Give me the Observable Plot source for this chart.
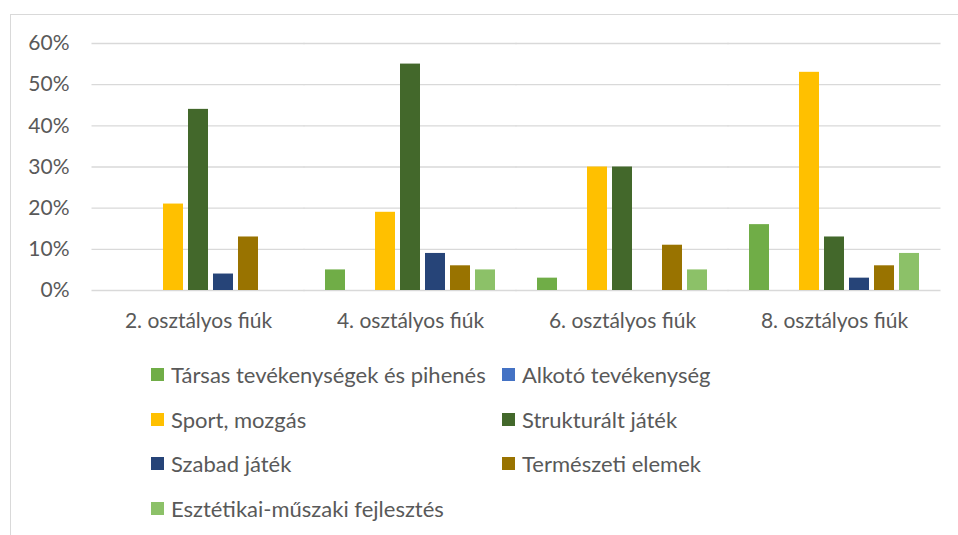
<!DOCTYPE html>
<html><head><meta charset="utf-8">
<script src="https://cdn.jsdelivr.net/npm/d3@7"></script>
<script src="https://cdn.jsdelivr.net/npm/@observablehq/plot@0.6"></script>
<style>
body{margin:0;background:#fff;font-family:Lato,"Open Sans",sans-serif;}
#wrap{position:relative;width:958px;height:535px;overflow:hidden;}
#frame{position:absolute;left:10px;top:14px;width:1000px;height:600px;border:1px solid #d9d9d9;box-sizing:border-box;}
#chart{position:absolute;left:0;top:0;}
#legend{position:absolute;left:0;top:0;width:958px;height:535px;}
.li{position:absolute;display:flex;align-items:center;font-size:22px;color:#595959;white-space:nowrap;height:26px;}
.sw{width:13px;height:13px;margin-right:7px;flex:none;}
</style></head>
<body><div id="wrap"><div id="frame"></div><div id="chart"></div><div id="legend"></div></div>
<script>
const groups = ["2. osztályos fiúk","4. osztályos fiúk","6. osztályos fiúk","8. osztályos fiúk"];
const series = ["Társas tevékenységek és pihenés","Alkotó tevékenység","Sport, mozgás","Strukturált játék","Szabad játék","Természeti elemek","Esztétikai-műszaki fejlesztés"];
const colors = ["#70AD47","#4472C4","#FFC000","#43682B","#264478","#997300","#8CC168"];
// values (%) per series, in group order
const tarsas     = [0, 5, 3, 16];
const alkoto     = [0, 0, 0, 0];
const sport      = [21, 19, 30, 53];
const strukt     = [44, 55, 30, 13];
const szabad     = [4, 9, 0, 3];
const termeszeti = [13, 6, 11, 6];
const esztetikai = [0, 5, 5, 9];
const yTicks = [0, 0.1, 0.2, 0.3, 0.4, 0.5, 0.6];

const valuesBySeries = [tarsas, alkoto, sport, strukt, szabad, termeszeti, esztetikai];
const data = [];
groups.forEach((g, gi) => series.forEach((s, si) => data.push({group: g, series: s, value: valuesBySeries[si][gi] / 100})));

const plot = Plot.plot({
  width: 958,
  height: 340,
  marginLeft: 91,
  marginRight: 17,
  marginTop: 43,
  marginBottom: 50,
  style: {fontFamily: "Lato, 'Open Sans', sans-serif", color: "#595959", background: "transparent", overflow: "visible"},
  fx: {domain: groups, paddingInner: 0.153, paddingOuter: 0.0765, axis: "bottom", label: null, tickSize: 0, tickPadding: 23},
  x: {domain: series, padding: 0.2, axis: null},
  y: {domain: [0, 0.6], ticks: yTicks, tickFormat: d3.format(".0%"), tickSize: 0, tickPadding: 39, label: null},
  color: {domain: series, range: colors},
  marks: [
    Plot.ruleY(yTicks, {stroke: "#d9d9d9", strokeWidth: 1.3, insetLeft: -16.5, insetRight: -16.5}),
    Plot.barY(data, {fx: "group", x: "series", y: "value", fill: "series"})
  ]
});
plot.querySelectorAll("text").forEach(t => { t.style.fontSize = "21px"; t.setAttribute("fill", "#595959"); });
document.getElementById("chart").appendChild(plot);

const leg = document.getElementById("legend");
const colX = [151, 502];
const rowY = [375, 420, 464, 509];
series.forEach((s, i) => {
  const d = document.createElement("div");
  d.className = "li";
  d.style.left = colX[i % 2] + "px";
  d.style.top = (rowY[Math.floor(i / 2)] - 14) + "px";
  d.innerHTML = `<span class="sw" style="background:${colors[i]}"></span><span>${s}</span>`;
  leg.appendChild(d);
});
</script></body></html>
